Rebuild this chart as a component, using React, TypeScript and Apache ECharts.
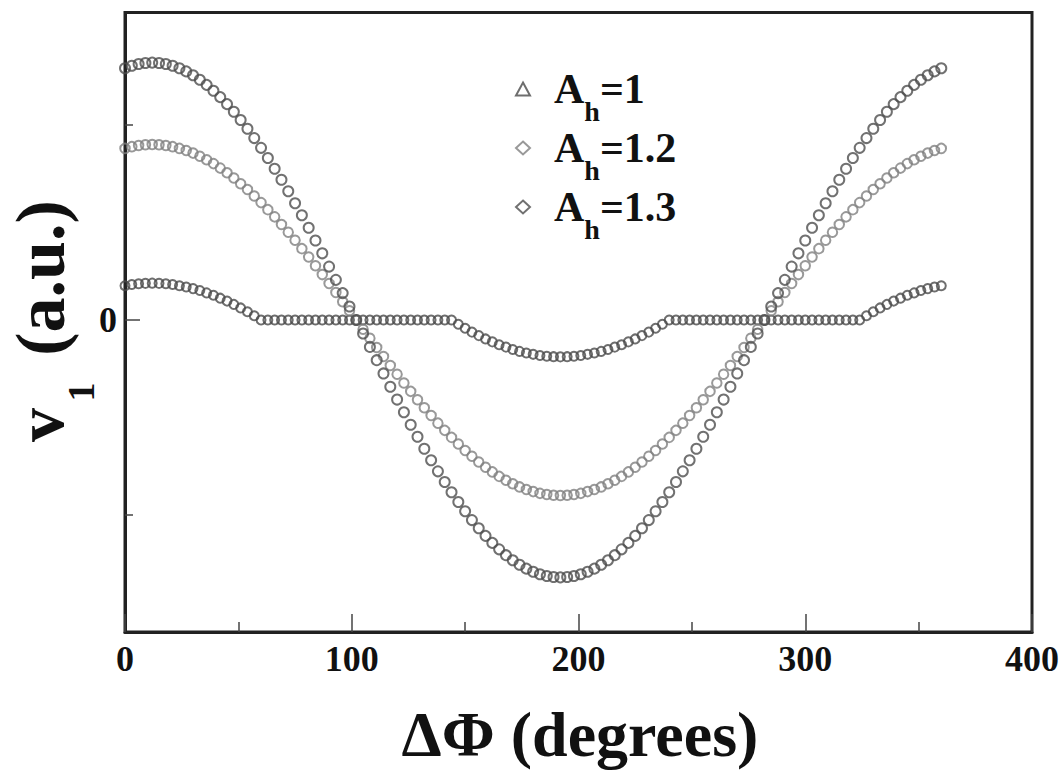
import React, { useEffect, useRef } from "react";
import * as echarts from "echarts";

// Phase difference (degrees)
const deltaPhi = [
  0, 3, 6, 9, 12, 15, 18, 21, 24, 27, 30, 33, 36, 39, 42, 45, 48, 51, 54, 57,
  60, 63, 66, 69, 72, 75, 78, 81, 84, 87, 90, 93, 96, 99, 102, 105, 108, 111, 114, 117,
  120, 123, 126, 129, 132, 135, 138, 141, 144, 147, 150, 153, 156, 159, 162, 165, 168, 171, 174, 177,
  180, 183, 186, 189, 192, 195, 198, 201, 204, 207, 210, 213, 216, 219, 222, 225, 228, 231, 234, 237,
  240, 243, 246, 249, 252, 255, 258, 261, 264, 267, 270, 273, 276, 279, 282, 285, 288, 291, 294, 297,
  300, 303, 306, 309, 312, 315, 318, 321, 324, 327, 330, 333, 336, 339, 342, 345, 348, 351, 354, 357,
  360,
];

// v1 (a.u.) for A_h = 1
const v1Ah10 = [
  0.176, 0.182, 0.186, 0.188, 0.189, 0.188, 0.186, 0.182, 0.176, 0.169,
  0.161, 0.151, 0.139, 0.127, 0.112, 0.097, 0.08, 0.062, 0.042, 0.022,
  0, 0, 0, 0, 0, 0, 0, 0, 0, 0, 0, 0, 0, 0, 0, 0, 0, 0, 0, 0,
  0, 0, 0, 0, 0, 0, 0, 0, 0,
  -0.022, -0.042, -0.062, -0.08, -0.097, -0.112, -0.127, -0.139, -0.151, -0.161,
  -0.169, -0.176, -0.182, -0.186, -0.188, -0.189, -0.188, -0.186, -0.182, -0.176,
  -0.169, -0.161, -0.151, -0.139, -0.127, -0.112, -0.097, -0.08, -0.062, -0.042,
  -0.022,
  0, 0, 0, 0, 0, 0, 0, 0, 0, 0, 0, 0, 0, 0, 0, 0, 0, 0, 0, 0,
  0, 0, 0, 0, 0, 0, 0, 0, 0,
  0.022, 0.042, 0.062, 0.08, 0.097, 0.112, 0.127, 0.139, 0.151, 0.161, 0.169, 0.176,
];

// v1 (a.u.) for A_h = 1.2
const v1Ah12 = [
  0.88, 0.889, 0.895, 0.899, 0.9, 0.899, 0.895, 0.889, 0.88, 0.869,
  0.856, 0.84, 0.822, 0.802, 0.779, 0.755, 0.728, 0.699, 0.669, 0.636,
  0.602, 0.566, 0.529, 0.49, 0.45, 0.409, 0.366, 0.323, 0.278, 0.233,
  0.187, 0.141, 0.094, 0.047, 0,
  -0.047, -0.094, -0.141, -0.187, -0.233, -0.278, -0.323, -0.366, -0.409, -0.45,
  -0.49, -0.529, -0.566, -0.602, -0.636, -0.669, -0.699, -0.728, -0.755, -0.779,
  -0.802, -0.822, -0.84, -0.856, -0.869, -0.88, -0.889, -0.895, -0.899, -0.9,
  -0.899, -0.895, -0.889, -0.88, -0.869, -0.856, -0.84, -0.822, -0.802, -0.779,
  -0.755, -0.728, -0.699, -0.669, -0.636, -0.602, -0.566, -0.529, -0.49, -0.45,
  -0.409, -0.366, -0.323, -0.278, -0.233, -0.187, -0.141, -0.094, -0.047, 0,
  0.047, 0.094, 0.141, 0.187, 0.233, 0.278, 0.323, 0.366, 0.409, 0.45,
  0.49, 0.529, 0.566, 0.602, 0.636, 0.669, 0.699, 0.728, 0.755, 0.779,
  0.802, 0.822, 0.84, 0.856, 0.869, 0.88,
];

// v1 (a.u.) for A_h = 1.3
const v1Ah13 = [
  1.291, 1.304, 1.313, 1.318, 1.32, 1.318, 1.313, 1.304, 1.291, 1.275,
  1.255, 1.232, 1.206, 1.176, 1.143, 1.107, 1.068, 1.026, 0.981, 0.933,
  0.883, 0.831, 0.776, 0.719, 0.66, 0.599, 0.537, 0.473, 0.408, 0.342,
  0.274, 0.206, 0.138, 0.069, 0,
  -0.069, -0.138, -0.206, -0.274, -0.342, -0.408, -0.473, -0.537, -0.599, -0.66,
  -0.719, -0.776, -0.831, -0.883, -0.933, -0.981, -1.026, -1.068, -1.107, -1.143,
  -1.176, -1.206, -1.232, -1.255, -1.275, -1.291, -1.304, -1.313, -1.318, -1.32,
  -1.318, -1.313, -1.304, -1.291, -1.275, -1.255, -1.232, -1.206, -1.176, -1.143,
  -1.107, -1.068, -1.026, -0.981, -0.933, -0.883, -0.831, -0.776, -0.719, -0.66,
  -0.599, -0.537, -0.473, -0.408, -0.342, -0.274, -0.206, -0.138, -0.069, 0,
  0.069, 0.138, 0.206, 0.274, 0.342, 0.408, 0.473, 0.537, 0.599, 0.66,
  0.719, 0.776, 0.831, 0.883, 0.933, 0.981, 1.026, 1.068, 1.107, 1.143,
  1.176, 1.206, 1.232, 1.255, 1.275, 1.291,
];

const seriesNames = ["Ah=1", "Ah=1.2", "Ah=1.3"];
const legendSubs = { "Ah=1": "=1", "Ah=1.2": "=1.2", "Ah=1.3": "=1.3" };
const xTicks = [0, 100, 200, 300, 400];
const yLabelValues = [0];
const yMinorTickValues = [-1, 1];

const SERIF = '"Liberation Serif", "Times New Roman", serif';

export default function App() {
  const ref = useRef<HTMLDivElement>(null);

  useEffect(() => {
    if (!ref.current) return;
    const chart = echarts.init(ref.current, undefined, { renderer: "svg" });
    const pair = (ys: number[]) => deltaPhi.map((x, i) => [x, ys[i]]);

    const mk = (name: string, ys: number[], color: string, size: number) => ({
      name,
      type: "scatter",
      data: pair(ys),
      symbol: "circle",
      symbolSize: size,
      itemStyle: { color: "rgba(0,0,0,0)", borderColor: color, borderWidth: 2 },
      emphasis: { disabled: true },
      z: 3,
    });

    chart.setOption({
      animation: false,
      backgroundColor: "#ffffff",
      grid: {
        left: 125,
        right: 32,
        top: 12.5,
        bottom: 141,
        show: true,
        borderColor: "#222",
        borderWidth: 3,
        backgroundColor: "transparent",
      },
      xAxis: {
        type: "value",
        min: xTicks[0],
        max: xTicks[xTicks.length - 1],
        interval: 100,
        axisLine: { show: true, onZero: false, lineStyle: { color: "#222", width: 3 } },
        axisTick: { show: true, inside: true, length: 18, lineStyle: { color: "#444", width: 1.5 } },
        minorTick: { show: true, splitNumber: 2, length: 10, lineStyle: { color: "#444", width: 1.5 } },
        splitLine: { show: false },
        axisLabel: {
          margin: 9,
          fontFamily: SERIF,
          fontWeight: "bold",
          fontSize: 36,
          color: "#111",
        },
      },
      yAxis: [
        {
          type: "value",
          min: -1.6,
          max: 1.577,
          axisLine: { show: true, onZero: false, lineStyle: { color: "#222", width: 3 } },
          axisTick: {
            show: true,
            inside: true,
            length: 15,
            customValues: yLabelValues,
            lineStyle: { color: "#444", width: 1.5 },
          },
          splitLine: { show: false },
          axisLabel: {
            customValues: yLabelValues,
            margin: 8,
            fontFamily: SERIF,
            fontWeight: "bold",
            fontSize: 36,
            color: "#111",
          },
        },
        {
          type: "value",
          position: "left",
          min: -1.6,
          max: 1.577,
          axisLine: { show: false, onZero: false },
          axisTick: {
            show: true,
            inside: true,
            length: 8,
            customValues: yMinorTickValues,
            lineStyle: { color: "#444", width: 1.5 },
          },
          splitLine: { show: false },
          axisLabel: { show: false },
        },
      ],
      legend: {
        orient: "vertical",
        left: 515,
        top: 68,
        padding: 0,
        itemGap: 2,
        itemWidth: 14,
        itemHeight: 13,
        data: [
          { name: seriesNames[0], icon: "triangle" },
          { name: seriesNames[1], icon: "diamond" },
          { name: seriesNames[2], icon: "diamond" },
        ],
        formatter: (name: string) => `{p|A}{s|h}{a|${(legendSubs as any)[name]}}`,
        textStyle: {
          rich: {
            p: {
              fontFamily: SERIF, fontWeight: "bold", fontSize: 42, lineHeight: 42,
              verticalAlign: "top", color: "#111", padding: [0, 0, 0, 19],
            },
            a: {
              fontFamily: SERIF, fontWeight: "bold", fontSize: 42, lineHeight: 42,
              verticalAlign: "top", color: "#111",
            },
            s: {
              fontFamily: SERIF, fontWeight: "bold", fontSize: 28, lineHeight: 28,
              verticalAlign: "top", color: "#111", padding: [29, 0, 0, 0],
            },
          },
        },
      },
      series: [
        mk(seriesNames[0], v1Ah10, "#4a4a4a", 9),
        mk(seriesNames[1], v1Ah12, "#7f7f7f", 9.5),
        mk(seriesNames[2], v1Ah13, "#4d4d4d", 10),
      ],
      graphic: [
        {
          type: "text",
          x: 580,
          y: 734,
          style: {
            text: "ΔΦ (degrees)",
            font: `bold 64px ${SERIF}`,
            fill: "#111",
            textAlign: "center",
            textVerticalAlign: "middle",
            align: "center",
            verticalAlign: "middle",
          },
        },
        {
          type: "text",
          x: 40,
          y: 425,
          rotation: Math.PI / 2,
          style: {
            text: "v",
            font: `bold 68px ${SERIF}`,
            fill: "#111",
            textAlign: "center",
            textVerticalAlign: "middle",
            align: "center",
            verticalAlign: "middle",
          },
        },
        {
          type: "text",
          x: 81,
          y: 392,
          rotation: Math.PI / 2,
          style: {
            text: "1",
            font: `bold 38px ${SERIF}`,
            fill: "#111",
            textAlign: "center",
            textVerticalAlign: "middle",
            align: "center",
            verticalAlign: "middle",
          },
        },
        {
          type: "text",
          x: 40,
          y: 278,
          rotation: Math.PI / 2,
          style: {
            text: "(a.u.)",
            font: `bold 70px ${SERIF}`,
            fill: "#111",
            textAlign: "center",
            textVerticalAlign: "middle",
            align: "center",
            verticalAlign: "middle",
          },
        },
      ],
    });

    return () => chart.dispose();
  }, []);

  return (
    <div
      ref={ref}
      style={{ position: "fixed", left: 0, top: 0, width: 1064, height: 773, background: "#fff" }}
    />
  );
}
